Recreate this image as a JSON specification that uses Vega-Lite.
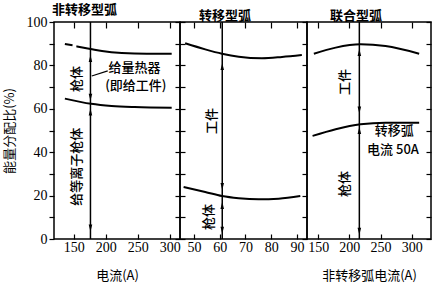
{
  "$schema": "https://vega.github.io/schema/vega-lite/v6.json",
  "padding": {"left": 2, "top": 3, "right": 0, "bottom": 0},
  "background": "white",
  "spacing": 0,
  "bounds": "flush",
  "config": {
    "view": {"stroke": "black", "strokeWidth": 1.5},
    "font": "Noto Sans CJK SC",
    "axis": {"domain": false, "grid": false, "tickColor": "black", "tickWidth": 1.2, "labelFont": "Liberation Serif", "labelFontSize": 14, "labelColor": "black", "titleFont": "Noto Sans CJK SC", "titleFontSize": 13, "titleFontWeight": "normal", "titleColor": "black"},
    "title": {"fontSize": 13, "font": "Noto Sans CJK SC", "fontWeight": "bold", "color": "black"}
  },
  "datasets": {
    "curves": [
      {"panel": "p1", "s": "u0", "x": 136, "y": 89.9},
      {"panel": "p1", "s": "u0", "x": 148, "y": 89.3},
      {"panel": "p1", "s": "u", "x": 154, "y": 88.8},
      {"panel": "p1", "s": "u", "x": 176, "y": 87.6},
      {"panel": "p1", "s": "u", "x": 194, "y": 86.6},
      {"panel": "p1", "s": "u", "x": 225, "y": 85.7},
      {"panel": "p1", "s": "u", "x": 264, "y": 85.4},
      {"panel": "p1", "s": "u", "x": 303, "y": 85.4},
      {"panel": "p1", "s": "l", "x": 136, "y": 64.7},
      {"panel": "p1", "s": "l", "x": 177, "y": 62.3},
      {"panel": "p1", "s": "l", "x": 209, "y": 61.3},
      {"panel": "p1", "s": "l", "x": 245, "y": 60.8},
      {"panel": "p1", "s": "l", "x": 303, "y": 60.5},
      {"panel": "p2", "s": "u", "x": 46.6, "y": 90.2},
      {"panel": "p2", "s": "u", "x": 54.4, "y": 87.4},
      {"panel": "p2", "s": "u", "x": 60.9, "y": 85.4},
      {"panel": "p2", "s": "u", "x": 67.4, "y": 84.0},
      {"panel": "p2", "s": "u", "x": 76.4, "y": 83.3},
      {"panel": "p2", "s": "u", "x": 84.2, "y": 83.9},
      {"panel": "p2", "s": "u", "x": 91.9, "y": 84.8},
      {"panel": "p2", "s": "l", "x": 46, "y": 24.0},
      {"panel": "p2", "s": "l", "x": 54.4, "y": 21.7},
      {"panel": "p2", "s": "l", "x": 60.9, "y": 19.8},
      {"panel": "p2", "s": "l", "x": 67.4, "y": 18.8},
      {"panel": "p2", "s": "l", "x": 75.1, "y": 18.3},
      {"panel": "p2", "s": "l", "x": 82.9, "y": 18.6},
      {"panel": "p2", "s": "l", "x": 91.3, "y": 19.8},
      {"panel": "p3", "s": "u", "x": 143, "y": 85.4},
      {"panel": "p3", "s": "u", "x": 178, "y": 88.2},
      {"panel": "p3", "s": "u", "x": 218, "y": 89.7},
      {"panel": "p3", "s": "u", "x": 258, "y": 88.9},
      {"panel": "p3", "s": "u", "x": 312, "y": 85.4},
      {"panel": "p3", "s": "l", "x": 141, "y": 47.5},
      {"panel": "p3", "s": "l", "x": 178, "y": 50.6},
      {"panel": "p3", "s": "l", "x": 218, "y": 52.9},
      {"panel": "p3", "s": "l", "x": 258, "y": 53.6},
      {"panel": "p3", "s": "l", "x": 312, "y": 53.6}
    ],
    "rules": [
      {"panel": "p1", "x": 176, "y": 0, "y2": 100},
      {"panel": "p2", "x": 61, "y": 0, "y2": 100},
      {"panel": "p3", "x": 216, "y": 0, "y2": 100}
    ],
    "heads": [
      {"panel": "p1", "x": 176, "y": 83.2, "dir": "up"},
      {"panel": "p1", "x": 176, "y": 65.3, "dir": "down"},
      {"panel": "p1", "x": 176, "y": 58.5, "dir": "up"},
      {"panel": "p1", "x": 176, "y": 5, "dir": "down"},
      {"panel": "p2", "x": 61, "y": 79.5, "dir": "up"},
      {"panel": "p2", "x": 61, "y": 24.2, "dir": "down"},
      {"panel": "p2", "x": 61, "y": 15.5, "dir": "up"},
      {"panel": "p2", "x": 61, "y": 4, "dir": "down"},
      {"panel": "p3", "x": 216, "y": 86, "dir": "up"},
      {"panel": "p3", "x": 216, "y": 59.4, "dir": "down"},
      {"panel": "p3", "x": 216, "y": 50, "dir": "up"},
      {"panel": "p3", "x": 216, "y": 3.5, "dir": "down"}
    ],
    "leader": [
      {"panel": "p1", "x": 178, "y": 75.1},
      {"panel": "p1", "x": 203, "y": 77.5}
    ],
    "vlabels": [
      {"panel": "p1", "x": 154.7, "y": 73.7, "text": "枪体"},
      {"panel": "p1", "x": 154.7, "y": 33.3, "text": "给等离子枪体"},
      {"panel": "p2", "x": 57, "y": 54.4, "text": "工件"},
      {"panel": "p2", "x": 55.8, "y": 10.1, "text": "枪体"},
      {"panel": "p3", "x": 193, "y": 72.4, "text": "工件"},
      {"panel": "p3", "x": 193, "y": 25.3, "text": "枪体"}
    ],
    "hlabels": [
      {"panel": "p1", "x": 245, "y": 78.8, "text": "给量热器"},
      {"panel": "p1", "x": 247, "y": 70.5, "text": "(即给工件)"},
      {"panel": "p3", "x": 272, "y": 49.8, "text": "转移弧"},
      {"panel": "p3", "x": 270, "y": 41.0, "text": "电流 50A"}
    ]
  },
  "hconcat": [
    {
      "width": 126, "height": 217,
      "title": {"text": "非转移型弧", "anchor": "start", "frame": "group", "dx": -2, "offset": -2},
      "resolve": {"axis": {"x": "independent", "y": "independent"}},
      "layer": [
        {
          "data": {"name": "curves"},
          "transform": [{"filter": "datum.panel === 'p1'"}],
          "mark": {"type": "line", "color": "black", "strokeWidth": 2, "interpolate": "monotone"},
          "encoding": {
            "x": {"field": "x", "type": "quantitative", "scale": {"domain": [119, 316], "nice": false, "zero": false},
                  "axis": {"orient": "bottom", "values": [150, 200, 250, 300], "tickSize": -5, "labelPadding": 6, "title": "电流(A)", "titlePadding": 15}},
            "y": {"field": "y", "type": "quantitative", "scale": {"domain": [0, 100], "nice": false, "zero": false},
                  "axis": {"orient": "left", "values": [0, 10, 20, 30, 40, 50, 60, 70, 80, 90, 100], "tickSize": 5, "labelPadding": 2, "labelExpr": "datum.value % 20 === 0 ? datum.label : ''", "title": "能量分配比(%)", "titlePadding": 10}},
            "detail": {"field": "s"}
          }
        },
        {
          "data": {"name": "rules"},
          "transform": [{"filter": "datum.panel === 'p1'"}],
          "mark": {"type": "rule", "color": "black", "strokeWidth": 1.5},
          "encoding": {
            "x": {"field": "x", "type": "quantitative", "axis": {"orient": "top", "values": [150, 200, 250, 300], "tickSize": -6, "labels": false, "title": null}},
            "y": {"field": "y", "type": "quantitative", "axis": {"orient": "right", "values": [0, 10, 20, 30, 40, 50, 60, 70, 80, 90, 100], "tickSize": -5, "labels": false, "title": null}},
            "y2": {"field": "y2"}
          }
        },
        {
          "data": {"name": "leader"},
          "transform": [{"filter": "datum.panel === 'p1'"}],
          "mark": {"type": "line", "color": "black", "strokeWidth": 1.2},
          "encoding": {
            "x": {"field": "x", "type": "quantitative", "axis": null},
            "y": {"field": "y", "type": "quantitative", "axis": null}
          }
        },
        {
          "data": {"name": "heads"},
          "transform": [{"filter": "datum.panel === 'p1'"}],
          "mark": {"type": "point", "filled": true, "color": "black", "opacity": 1, "size": 50},
          "encoding": {
            "x": {"field": "x", "type": "quantitative", "axis": null},
            "y": {"field": "y", "type": "quantitative", "axis": null},
            "shape": {"field": "dir", "type": "nominal", "legend": null, "scale": {"domain": ["up", "down"], "range": ["M0,-1L0.5,1L-0.5,1Z", "M0,1L0.5,-1L-0.5,-1Z"]}}
          }
        },
        {
          "data": {"name": "vlabels"},
          "transform": [{"filter": "datum.panel === 'p1'"}],
          "mark": {"type": "text", "angle": 270, "fontSize": 13, "fontWeight": 500, "color": "black", "align": "center", "baseline": "middle"},
          "encoding": {
            "x": {"field": "x", "type": "quantitative", "axis": null},
            "y": {"field": "y", "type": "quantitative", "axis": null},
            "text": {"field": "text"}
          }
        },
        {
          "data": {"name": "hlabels"},
          "transform": [{"filter": "datum.panel === 'p1'"}],
          "mark": {"type": "text", "fontSize": 13, "fontWeight": 500, "color": "black", "align": "center", "baseline": "middle"},
          "encoding": {
            "x": {"field": "x", "type": "quantitative", "axis": null},
            "y": {"field": "y", "type": "quantitative", "axis": null},
            "text": {"field": "text"}
          }
        }
      ]
    },
    {
      "width": 127, "height": 217,
      "title": {"text": "转移型弧", "anchor": "start", "frame": "group", "dx": 19, "offset": -2},
      "resolve": {"axis": {"x": "independent", "y": "independent"}},
      "layer": [
        {
          "data": {"name": "curves"},
          "transform": [{"filter": "datum.panel === 'p2'"}],
          "mark": {"type": "line", "color": "black", "strokeWidth": 2, "interpolate": "monotone"},
          "encoding": {
            "x": {"field": "x", "type": "quantitative", "scale": {"domain": [44.6, 93.9], "nice": false, "zero": false},
                  "axis": {"orient": "bottom", "values": [50, 60, 70, 80, 90], "tickSize": -5, "labelPadding": 6, "title": null}},
            "y": {"field": "y", "type": "quantitative", "scale": {"domain": [0, 100], "nice": false, "zero": false},
                  "axis": {"orient": "left", "values": [0, 10, 20, 30, 40, 50, 60, 70, 80, 90, 100], "tickSize": -5, "labels": false, "title": null}},
            "detail": {"field": "s"}
          }
        },
        {
          "data": {"name": "rules"},
          "transform": [{"filter": "datum.panel === 'p2'"}],
          "mark": {"type": "rule", "color": "black", "strokeWidth": 1.5},
          "encoding": {
            "x": {"field": "x", "type": "quantitative", "axis": {"orient": "top", "values": [50, 60, 70, 80, 90], "tickSize": -6, "labels": false, "title": null}},
            "y": {"field": "y", "type": "quantitative", "axis": {"orient": "right", "values": [0, 10, 20, 30, 40, 50, 60, 70, 80, 90, 100], "tickSize": -5, "labels": false, "title": null}},
            "y2": {"field": "y2"}
          }
        },
        {
          "data": {"name": "heads"},
          "transform": [{"filter": "datum.panel === 'p2'"}],
          "mark": {"type": "point", "filled": true, "color": "black", "opacity": 1, "size": 50},
          "encoding": {
            "x": {"field": "x", "type": "quantitative", "axis": null},
            "y": {"field": "y", "type": "quantitative", "axis": null},
            "shape": {"field": "dir", "type": "nominal", "legend": null, "scale": {"domain": ["up", "down"], "range": ["M0,-1L0.5,1L-0.5,1Z", "M0,1L0.5,-1L-0.5,-1Z"]}}
          }
        },
        {
          "data": {"name": "vlabels"},
          "transform": [{"filter": "datum.panel === 'p2'"}],
          "mark": {"type": "text", "angle": 270, "fontSize": 13, "fontWeight": 500, "color": "black", "align": "center", "baseline": "middle"},
          "encoding": {
            "x": {"field": "x", "type": "quantitative", "axis": null},
            "y": {"field": "y", "type": "quantitative", "axis": null},
            "text": {"field": "text"}
          }
        }
      ]
    },
    {
      "width": 124, "height": 217,
      "title": {"text": "联合型弧", "anchor": "start", "frame": "group", "dx": 23, "offset": -2},
      "resolve": {"axis": {"x": "independent", "y": "independent"}},
      "layer": [
        {
          "data": {"name": "curves"},
          "transform": [{"filter": "datum.panel === 'p3'"}],
          "mark": {"type": "line", "color": "black", "strokeWidth": 2, "interpolate": "monotone"},
          "encoding": {
            "x": {"field": "x", "type": "quantitative", "scale": {"domain": [132, 331], "nice": false, "zero": false},
                  "axis": {"orient": "bottom", "values": [150, 200, 250, 300], "tickSize": -5, "labelPadding": 6, "title": "非转移弧电流(A)", "titlePadding": 15}},
            "y": {"field": "y", "type": "quantitative", "scale": {"domain": [0, 100], "nice": false, "zero": false}, "axis": null},
            "detail": {"field": "s"}
          }
        },
        {
          "data": {"name": "rules"},
          "transform": [{"filter": "datum.panel === 'p3'"}],
          "mark": {"type": "rule", "color": "black", "strokeWidth": 1.5},
          "encoding": {
            "x": {"field": "x", "type": "quantitative", "axis": {"orient": "top", "values": [150, 200, 250, 300], "tickSize": -6, "labels": false, "title": null}},
            "y": {"field": "y", "type": "quantitative", "axis": {"orient": "right", "values": [0, 10, 20, 30, 40, 50, 60, 70, 80, 90, 100], "tickSize": -5, "labels": false, "title": null}},
            "y2": {"field": "y2"}
          }
        },
        {
          "data": {"name": "heads"},
          "transform": [{"filter": "datum.panel === 'p3'"}],
          "mark": {"type": "point", "filled": true, "color": "black", "opacity": 1, "size": 50},
          "encoding": {
            "x": {"field": "x", "type": "quantitative", "axis": null},
            "y": {"field": "y", "type": "quantitative", "axis": null},
            "shape": {"field": "dir", "type": "nominal", "legend": null, "scale": {"domain": ["up", "down"], "range": ["M0,-1L0.5,1L-0.5,1Z", "M0,1L0.5,-1L-0.5,-1Z"]}}
          }
        },
        {
          "data": {"name": "vlabels"},
          "transform": [{"filter": "datum.panel === 'p3'"}],
          "mark": {"type": "text", "angle": 270, "fontSize": 13, "fontWeight": 500, "color": "black", "align": "center", "baseline": "middle"},
          "encoding": {
            "x": {"field": "x", "type": "quantitative", "axis": null},
            "y": {"field": "y", "type": "quantitative", "axis": null},
            "text": {"field": "text"}
          }
        },
        {
          "data": {"name": "hlabels"},
          "transform": [{"filter": "datum.panel === 'p3'"}],
          "mark": {"type": "text", "fontSize": 13, "fontWeight": 500, "color": "black", "align": "center", "baseline": "middle"},
          "encoding": {
            "x": {"field": "x", "type": "quantitative", "axis": null},
            "y": {"field": "y", "type": "quantitative", "axis": null},
            "text": {"field": "text"}
          }
        }
      ]
    }
  ]
}
